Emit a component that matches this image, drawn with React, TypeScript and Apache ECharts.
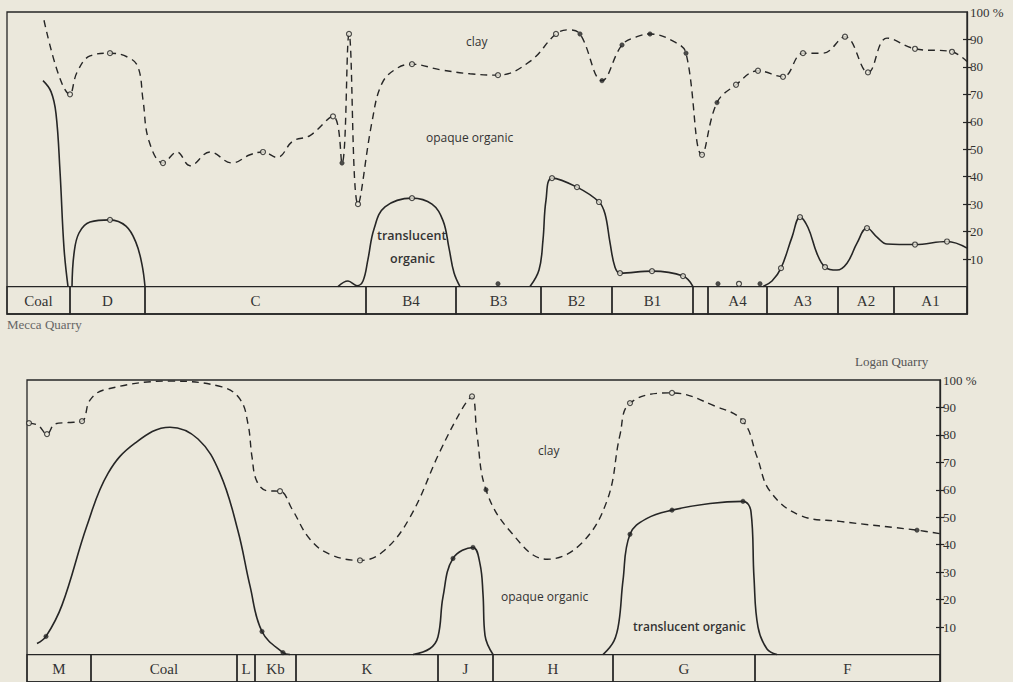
import React, { useEffect, useRef } from "react";
import * as echarts from "echarts";

const INK = "#262626";
const PAPER = "#ebe8dc";
const SERIF = '"Liberation Serif", "DejaVu Serif", serif';
const SANS = '"Open Sans", "DejaVu Sans", sans-serif';

// ---- Mecca Quarry (top) ----
const topZones = ["Coal", "D", "C", "B4", "B3", "B2", "B1", "", "A4", "A3", "A2", "A1"];
const topZoneEdges = [7, 70, 145, 366, 456, 541, 612, 693, 708, 767, 838, 894, 967];

// [position, percent, marker: 0 none, 1 open, 2 filled]
const topClay: number[][] = [
  [44, 97, 0], [70, 70, 1], [77, 78, 0], [90, 84, 0], [110, 85, 1],
  [128, 83.5, 0], [138, 80, 0], [143, 68, 0], [149, 53, 0], [163, 45, 1],
  [177, 49, 0], [190, 44, 0], [210, 49, 0], [232, 45, 0], [250, 48, 0], [263, 49, 1], [277, 47, 0],
  [293, 53, 0], [310, 55, 0], [333, 62, 1], [342, 45, 2], [349, 92, 1], [358, 30, 1], [372, 60, 0],
  [382, 74, 0], [397, 79.5, 0], [412, 81, 1], [440, 79, 0], [470, 77.5, 0], [498, 77, 1], [530, 82, 0],
  [556, 92, 1], [568, 93.5, 0], [580, 92, 2], [602, 75, 2], [622, 88, 2], [637, 91, 0], [650, 92, 2],
  [675, 89, 0], [686, 85, 2], [702, 48, 1], [717, 67, 2], [736, 73.5, 1], [758, 78.6, 1], [783, 76.4, 1],
  [803, 85, 1], [823, 85, 0], [845, 91, 1], [868, 78, 1], [887, 90.5, 0], [915, 86.6, 1], [952, 85.5, 1],
  [967, 82, 0],
];

const topOrganicCoal: number[][] = [
  [43, 75, 0], [51, 71, 0], [56, 63, 0], [60, 42, 0], [64, 14, 0], [68, 0, 0],
];
const topOrganicD: number[][] = [
  [72, 0, 0], [74, 12, 0], [79, 19.5, 0], [90, 23.5, 0], [110, 24.3, 1], [126, 22, 0],
  [136, 16, 0], [142, 8, 0], [145, 0, 0],
];
const topOrganicB4: number[][] = [
  [338, 0, 0], [348, 2, 0], [357, 0.3, 0], [363, 2, 0], [368, 10, 0], [374, 21, 0],
  [385, 29, 0], [412, 32.2, 1], [432, 30, 0], [443, 24, 0], [449, 14, 0],
  [454, 5, 0], [460, 0, 0],
];
const topOrganicB2: number[][] = [
  [530, 0, 0], [539, 6, 0], [543, 17, 0], [546, 31.5, 0], [552, 39.5, 1], [577, 36.2, 1],
  [599, 30.8, 1], [605, 26.5, 0], [610, 16, 0], [615, 7, 0], [620, 4.9, 1], [652, 5.6, 1], [683, 3.8, 1],
  [693, 0, 0],
];
const topOrganicA: number[][] = [
  [763, 0, 0], [772, 2, 0], [781, 6.7, 1], [792, 18, 0], [800, 25.3, 1], [808, 21.5, 0], [817, 12, 0],
  [825, 7.1, 1], [837, 6, 0], [847, 8.5, 0], [857, 15.8, 0], [867, 21.3, 1], [877, 18, 0], [887, 15.5, 0],
  [915, 15.3, 1], [947, 16.4, 1], [967, 14, 0],
];
const topOrganicDots: number[][] = [[498, 1, 2], [718, 1, 2], [739, 1, 1], [760, 1, 2]];

// ---- Logan Quarry (bottom) ----
const bottomZones = ["M", "Coal", "L", "Kb", "K", "J", "H", "G", "F"];
const bottomZoneEdges = [27, 91, 237, 255, 296, 438, 493, 613, 755, 940];

const bottomClay: number[][] = [
  [29, 84.3, 1], [38, 83.5, 0], [47, 80.3, 1], [55, 84, 0], [68, 84.5, 0], [82, 85, 1],
  [90, 92.7, 0], [105, 96.5, 0], [170, 99.6, 0], [222, 97.5, 0],
  [240, 93, 0], [248, 84, 0], [252, 72, 0], [257, 63, 0], [268, 59.6, 0], [280, 59.5, 1],
  [292, 53, 0], [310, 42, 0], [330, 36.5, 0], [360, 34.3, 1], [383, 37.5, 0],
  [410, 50, 0], [440, 74, 0], [463, 90, 0], [472, 94, 1], [477, 80, 0],
  [486, 60, 2], [510, 45, 0], [547, 34.7, 0], [580, 40, 0],
  [607, 56, 0], [620, 80, 0], [630, 91.6, 1],
  [672, 95.3, 1], [715, 90.5, 0], [743, 85, 1], [757, 72, 0],
  [770, 59.5, 0], [800, 50.7, 0], [840, 48.5, 0], [917, 45.3, 2],
  [940, 44, 0],
];
const bottomOrganicCoal: number[][] = [
  [37, 4, 0], [46, 6.6, 2], [62, 18, 0], [87, 47, 0], [108, 66, 0],
  [135, 77, 0], [170, 82.8, 0], [198, 78.5, 0], [220, 66, 0], [238, 45, 0],
  [250, 25, 0], [262, 8.4, 2], [283, 0.7, 2], [290, 0, 0],
];
const bottomOrganicJ: number[][] = [
  [413, 0, 0], [430, 2.2, 0], [438, 6.5, 0], [443, 21, 0], [453, 35, 2], [473, 39, 2],
  [480, 33, 0], [483, 22, 0], [485, 7, 0], [493, 0, 0],
];
const bottomOrganicG: number[][] = [
  [603, 0, 0], [614, 5, 0], [619, 12, 0], [623, 27, 0], [630, 43.8, 2], [647, 49.6, 0],
  [672, 52.6, 2], [710, 55, 0], [743, 55.8, 2], [751, 52, 0],
  [754, 28, 0], [758, 10, 0], [767, 2, 0], [777, 0, 0],
];

const tickValues = [10, 20, 30, 40, 50, 60, 70, 80, 90];
const labelValues = [10, 20, 30, 40, 50, 60, 70, 80, 90, 100];

function lineSeries(points: number[][], gi: number, dashed: boolean) {
  return {
    type: "line",
    xAxisIndex: gi,
    yAxisIndex: gi * 2,
    data: points.map((p) => [p[0], p[1]]),
    smooth: 0.4,
    symbol: "none",
    silent: true,
    lineStyle: { color: INK, width: dashed ? 1.4 : 1.6, type: dashed ? [7, 5] : "solid" },
    z: 3,
  };
}

function markerSeries(points: number[][], gi: number, kind: number) {
  return {
    type: "scatter",
    xAxisIndex: gi,
    yAxisIndex: gi * 2,
    data: points.filter((p) => p[2] === kind).map((p) => [p[0], p[1]]),
    symbol: "circle",
    symbolSize: kind === 1 ? 5 : 4.5,
    itemStyle:
      kind === 1
        ? { color: PAPER, borderColor: INK, borderWidth: 1.2 }
        : { color: INK, borderColor: INK, borderWidth: 0.5 },
    silent: true,
    z: 5,
  };
}

function zoneSeries(zones: string[], edges: number[], gi: number) {
  return {
    type: "custom",
    xAxisIndex: gi,
    yAxisIndex: gi * 2,
    silent: true,
    data: zones.map((_, i) => [edges[i], edges[i + 1], i]),
    renderItem: (params: any, api: any) => {
      const x0 = api.value(0);
      const x1 = api.value(1);
      const idx = api.value(2);
      const a = api.coord([x0, 0]);
      const b = api.coord([x1, -10]);
      return {
        type: "group",
        children: [
          {
            type: "rect",
            shape: { x: a[0], y: a[1], width: b[0] - a[0], height: b[1] - a[1] },
            style: { fill: "none", stroke: INK, lineWidth: 1.3 },
          },
          {
            type: "text",
            style: {
              text: zones[idx],
              x: (a[0] + b[0]) / 2,
              y: (a[1] + b[1]) / 2 + 1,
              align: "center",
              verticalAlign: "middle",
              font: `15px ${SERIF}`,
              fill: "#333",
            },
          },
        ],
      };
    },
    z: 2,
  };
}

function yAxes(gi: number) {
  return [
    {
      gridIndex: gi,
      type: "value",
      min: -10,
      max: 100,
      interval: 10,
      position: "right",
      offset: 0,
      axisLine: { show: true, lineStyle: { color: INK, width: 1.3 } },
      axisTick: { show: true, inside: false, length: 4, customValues: tickValues, lineStyle: { color: INK, width: 1.2 } },
      axisLabel: {
        customValues: labelValues,
        formatter: (v: number) => (v <= 0 ? "" : v === 100 ? "100 %" : String(v)),
        fontFamily: SERIF,
        fontSize: 13,
        color: "#333",
        margin: 3,
      },
      splitLine: { show: false },
    },
    {
      gridIndex: gi,
      type: "value",
      min: -10,
      max: 100,
      interval: 10,
      position: "right",
      offset: 0,
      axisLine: { show: false },
      axisTick: { show: true, inside: true, length: 4, customValues: tickValues, lineStyle: { color: INK, width: 1.2 } },
      axisLabel: { show: false },
      splitLine: { show: false },
    },
  ];
}

export default function App() {
  const ref = useRef<HTMLDivElement>(null);
  useEffect(() => {
    if (!ref.current) return;
    const chart = echarts.init(ref.current, undefined, { renderer: "svg" });
    const W = 1013;
    const H = 682;
    chart.setOption({
      animation: false,
      backgroundColor: PAPER,
      grid: [
        { left: 7, right: W - 967, top: 12, bottom: H - 314, show: true, borderColor: INK, borderWidth: 1.3, backgroundColor: "transparent" },
        { left: 27, right: W - 940, top: 380, bottom: -2, show: true, borderColor: INK, borderWidth: 1.3, backgroundColor: "transparent" },
      ],
      xAxis: [
        { gridIndex: 0, type: "value", min: 7, max: 967, show: false },
        { gridIndex: 1, type: "value", min: 27, max: 940, show: false },
      ],
      yAxis: [...yAxes(0), ...yAxes(1)],
      series: [
        zoneSeries(topZones, topZoneEdges, 0),
        zoneSeries(bottomZones, bottomZoneEdges, 1),
        lineSeries(topClay, 0, true),
        lineSeries(topOrganicCoal, 0, false),
        lineSeries(topOrganicD, 0, false),
        lineSeries(topOrganicB4, 0, false),
        lineSeries(topOrganicB2, 0, false),
        lineSeries(topOrganicA, 0, false),
        lineSeries(bottomClay, 1, true),
        lineSeries(bottomOrganicCoal, 1, false),
        lineSeries(bottomOrganicJ, 1, false),
        lineSeries(bottomOrganicG, 1, false),
        ...[1, 2].flatMap((k) => [
          markerSeries(topClay, 0, k),
          markerSeries([...topOrganicD, ...topOrganicB4, ...topOrganicB2, ...topOrganicA, ...topOrganicDots], 0, k),
          markerSeries(bottomClay, 1, k),
          markerSeries([...bottomOrganicCoal, ...bottomOrganicJ, ...bottomOrganicG], 1, k),
        ]),
      ],
      graphic: [
        { type: "text", left: 466, top: 35, style: { text: "clay", font: `12px ${SANS}`, fill: "#333" } },
        { type: "text", left: 426, top: 131, style: { text: "opaque organic", font: `12px ${SANS}`, fill: "#333" } },
        { type: "text", left: 377, top: 229, style: { text: "translucent", font: `600 12.5px ${SANS}`, fill: "#333" } },
        { type: "text", left: 390, top: 252, style: { text: "organic", font: `600 12.5px ${SANS}`, fill: "#333" } },
        { type: "text", left: 7, top: 318, style: { text: "Mecca Quarry", font: `13px ${SERIF}`, fill: "#666" } },
        { type: "text", left: 855, top: 355, style: { text: "Logan Quarry", font: `13px ${SERIF}`, fill: "#555" } },
        { type: "text", left: 538, top: 444, style: { text: "clay", font: `12px ${SANS}`, fill: "#333" } },
        { type: "text", left: 501, top: 590, style: { text: "opaque organic", font: `12px ${SANS}`, fill: "#333" } },
        { type: "text", left: 633, top: 620, style: { text: "translucent organic", font: `600 12px ${SANS}`, fill: "#333" } },
      ],
    });
    return () => chart.dispose();
  }, []);
  return (
    <div
      ref={ref}
      style={{ position: "fixed", left: 0, top: 0, width: 1013, height: 682 }}
    />
  );
}
